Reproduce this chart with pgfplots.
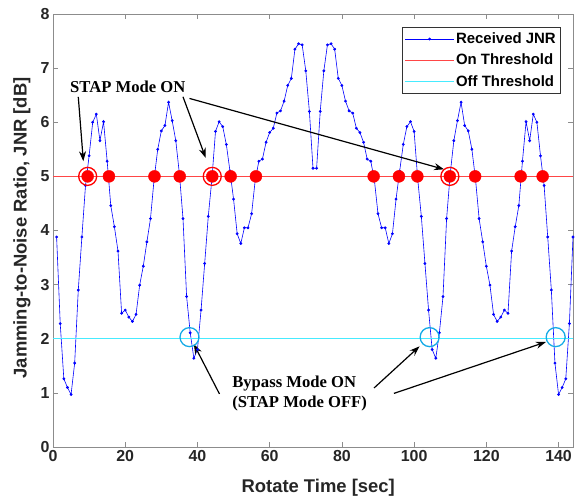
\documentclass[border=0pt]{standalone}
\usepackage{pgfplots}
\pgfplotsset{compat=1.18}
\usepackage{fontspec}
\setmainfont{Liberation Sans}
\newfontfamily\timesfont{Liberation Serif}
\usetikzlibrary{calc,arrows.meta}

\definecolor{jnrblue}{RGB}{0,0,255}
\definecolor{onred}{RGB}{255,70,70}
\definecolor{offcyan}{RGB}{70,235,255}
\definecolor{circcyan}{RGB}{20,170,230}
\definecolor{axgray}{RGB}{140,140,140}

\pgfplotstableread{
x y
1 3.88
2 2.28
3 1.26
4 1.10
5 0.97
6 1.55
7 2.90
8 3.88
9 4.83
10 5.38
11 6.00
12 6.15
13 5.66
14 6.01
15 5.28
16 4.46
17 4.07
18 3.62
19 2.47
20 2.53
21 2.40
22 2.32
23 2.45
24 2.99
25 3.34
26 3.79
27 4.22
28 4.95
29 5.50
30 5.84
31 5.94
32 6.37
33 6.03
34 5.66
35 5.05
36 4.22
37 2.78
38 2.11
39 1.64
40 1.80
41 2.53
42 3.39
43 4.26
44 4.95
45 5.83
46 6.01
47 5.92
48 5.59
49 5.10
50 4.58
51 3.94
52 3.76
53 4.05
54 4.05
55 4.31
56 4.93
57 5.28
58 5.32
59 5.63
60 5.81
61 5.89
62 6.17
63 6.21
64 6.39
65 6.68
66 6.81
67 7.35
68 7.45
69 7.43
70 6.95
71 6.20
72 5.15
73 5.15
74 6.20
75 6.95
76 7.43
77 7.45
78 7.35
79 6.81
80 6.68
81 6.39
82 6.21
83 6.17
84 5.89
85 5.81
86 5.63
87 5.32
88 5.28
89 4.93
90 4.31
91 4.05
92 4.05
93 3.76
94 3.94
95 4.58
96 5.10
97 5.59
98 5.92
99 6.01
100 5.83
101 4.95
102 4.26
103 3.39
104 2.53
105 1.80
106 1.64
107 2.11
108 2.78
109 4.22
110 5.05
111 5.66
112 6.03
113 6.37
114 5.94
115 5.84
116 5.50
117 4.95
118 4.22
119 3.79
120 3.34
121 2.99
122 2.45
123 2.32
124 2.40
125 2.53
126 2.47
127 3.62
128 4.07
129 4.46
130 5.28
131 6.01
132 5.66
133 6.15
134 6.00
135 5.38
136 4.83
137 3.88
138 2.90
139 1.55
140 0.97
141 1.10
142 1.26
143 2.28
144 3.88
}\jnrdata

\begin{document}
\begin{tikzpicture}
\begin{axis}[
  scale only axis, width=520bp, height=433bp,
  xmin=0, xmax=144, ymin=0, ymax=8,
  xtick={0,20,...,140}, ytick={0,1,...,8},
  tick align=inside, major tick length=5bp,
  axis line style={axgray, line width=0.8bp},
  tick style={axgray, line width=0.6bp},
  ticklabel style={font=\fontsize{16}{16}\selectfont\bfseries, text=black!85},
  /pgf/number format/assume math mode=true,
  xlabel={Rotate Time [sec]}, ylabel={Jamming-to-Noise Ratio, JNR [dB]},
  label style={font=\fontsize{18.5}{18.5}\selectfont\bfseries, text=black!85},
  xlabel style={at={(axis description cs:0.51,-0.095)}, anchor=center},
  ylabel style={at={(axis description cs:-0.06,0.506)}, anchor=center},
  clip=false,
  legend style={at={(0.977,0.971)}, anchor=north east,
    font=\fontsize{15}{15}\selectfont\bfseries, draw=black!80, line width=0.6bp,
    inner xsep=3bp, inner ysep=4bp, row sep=5bp},
  legend cell align=left,
  legend image code/.code={\draw[mark repeat=2,mark phase=2,#1] plot coordinates {(0cm,0cm) (0.85cm,0cm) (1.7cm,0cm)};},
]
\addplot[jnrblue, line width=0.6bp, mark=*, mark size=1.1bp, mark options={fill=jnrblue, draw=jnrblue}] table[x=x,y=y] {\jnrdata};
\addlegendentry{Received JNR}
\addplot[onred, line width=0.8bp] coordinates {(0,5) (144,5)};
\addlegendentry{On Threshold}
\addplot[offcyan, line width=0.8bp] coordinates {(0,2) (144,2)};
\addlegendentry{Off Threshold}

\addplot[only marks, mark=*, mark size=6bp, mark options={fill=red, draw=red}, forget plot] coordinates {
(9.6,5) (15.5,5) (28.1,5) (35.1,5) (44.1,5) (49.2,5) (56.2,5)
(88.8,5) (95.8,5) (100.9,5) (109.9,5) (116.9,5) (129.5,5) (135.6,5)};
\addplot[only marks, mark=o, mark size=9bp, mark options={draw=red, line width=1.3bp}, forget plot] coordinates {
(9.6,5) (44.1,5) (109.9,5)};
\addplot[only marks, mark=o, mark size=9.5bp, mark options={draw=circcyan, line width=1.3bp}, forget plot] coordinates {
(37.8,2.03) (104.3,2.03) (139.2,2.03)};

\tikzset{arr/.style={black, line width=1.2bp, -{Stealth[length=10bp,width=7bp]}}}
\draw[arr] (axis cs:7.0,6.47) -- (axis cs:8.4,5.28);
\draw[arr] (axis cs:36.0,6.47) -- (axis cs:42.3,5.34);
\draw[arr] (axis cs:37.8,6.44) -- (axis cs:108.3,5.13);
\draw[arr] (axis cs:46.1,0.98) -- (axis cs:39.0,1.90);
\draw[arr] (axis cs:88.9,1.09) -- (axis cs:101.5,1.86);
\draw[arr] (axis cs:94.4,0.99) -- (axis cs:136.5,1.94);

\node[anchor=west, inner sep=0pt, font=\fontsize{16.7}{20.3}\selectfont\timesfont\bfseries] at (axis cs:4.7,6.66) {STAP Mode ON};
\node[anchor=west, inner sep=0pt, align=left, font=\fontsize{16.7}{20.3}\selectfont\timesfont\bfseries] at (axis cs:49.6,0.99) {Bypass Mode ON\\(STAP Mode OFF)};
\end{axis}
\path ($(current axis.south west)+(-53bp,-54bp)$) rectangle ($(current axis.north east)+(6bp,14bp)$);
\end{tikzpicture}
\end{document}
